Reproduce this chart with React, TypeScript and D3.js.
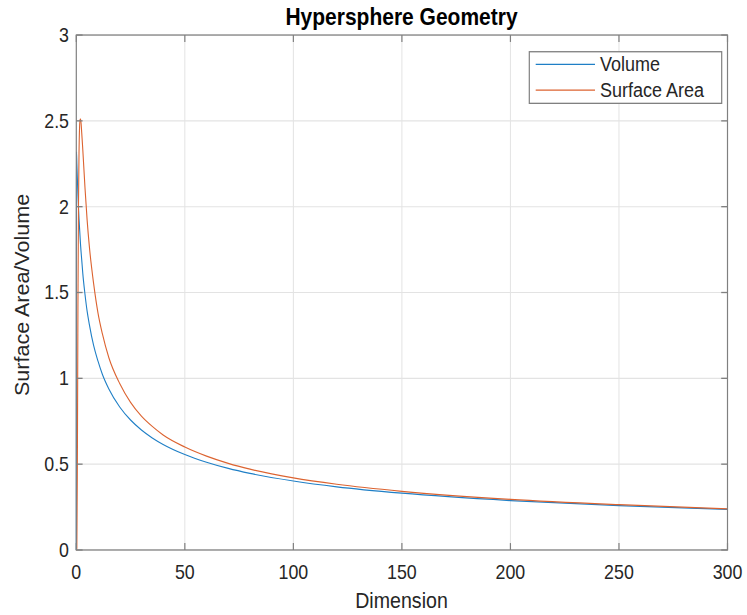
import React from "react";
import * as d3 from "d3";

// ---- data ----
const dims = [0, 0.1, 0.25, 0.5, 0.75, 1, 1.25, 1.5, 1.75, 2, 2.5, 3, 4, 5, 6, 8, 10, 12, 15, 20, 25, 30, 35, 40, 50, 60, 70, 80, 100, 120, 150, 200, 250, 300];
const volume = [0, 2.32, 2.25, 2.16, 2.07, 2.0, 1.93, 1.875, 1.82, 1.77, 1.69, 1.61, 1.49, 1.39, 1.315, 1.19, 1.1, 1.024, 0.938, 0.833, 0.757, 0.699, 0.653, 0.615, 0.556, 0.511, 0.475, 0.446, 0.402, 0.368, 0.331, 0.288, 0.258, 0.236];
const surfaceArea = [0, 0.0, 0.01, 0.54, 1.41, 2.0, 2.31, 2.46, 2.51, 2.51, 2.43, 2.33, 2.11, 1.92, 1.77, 1.55, 1.38, 1.26, 1.12, 0.97, 0.86, 0.78, 0.72, 0.67, 0.6, 0.547, 0.505, 0.471, 0.42, 0.383, 0.342, 0.295, 0.264, 0.24];
const xTicks = [0, 50, 100, 150, 200, 250, 300];
const yTicks = [0, 0.5, 1, 1.5, 2, 2.5, 3];
const seriesNames = ["Volume", "Surface Area"];
const seriesColors = ["#1f7fc6", "#dc6330"];
const title = "Hypersphere Geometry";
const xLabel = "Dimension";
const yLabel = "Surface Area/Volume";

const VW = 747;
const VH = 560;
const FONT = "'Liberation Sans', Arial, Helvetica, sans-serif";

export default function App() {
  const left = 76.3, right = 727.5, top = 31.9, bottom = 500.8;
  const x = d3.scaleLinear().domain([0, 300]).range([left, right]);
  const y = d3.scaleLinear().domain([0, 3]).range([bottom, top]);
  const line = d3
    .line<number>()
    .x((_, i) => x(dims[i]))
    .y((d) => y(d))
    .curve(d3.curveMonotoneX);
  const series = [volume, surfaceArea];
  const tickLen = 6.3;
  const axisColor = "#808080";
  const textColor = "#262626";

  const lg = { x0: 529.3, x1: 721.7, y0: 47.1, y1: 94.1 };
  const lgRows = [58.6, 82.0];

  return (
    <svg
      width={747}
      height={615}
      viewBox={`0 0 ${VW} ${VH}`}
      preserveAspectRatio="none"
      style={{ position: "absolute", left: 0, top: 0, background: "#fff" }}
    >
      <rect x={0} y={0} width={VW} height={VH} fill="#fff" />
      <rect x={left} y={top} width={right - left} height={bottom - top} fill="#fff" />
      {/* grid */}
      <g stroke="#e3e3e3" strokeWidth={1}>
        {xTicks.slice(1, -1).map((t) => (
          <line key={"gx" + t} x1={x(t)} x2={x(t)} y1={top} y2={bottom} />
        ))}
        {yTicks.slice(1, -1).map((t) => (
          <line key={"gy" + t} x1={left} x2={right} y1={y(t)} y2={y(t)} />
        ))}
      </g>
      {/* data */}
      <g fill="none" strokeWidth={1.1}>
        {series.map((s, i) => (
          <path key={i} d={line(s) || ""} stroke={seriesColors[i]} />
        ))}
      </g>
      {/* axes box and ticks */}
      <g stroke={axisColor} strokeWidth={1.2} fill="none">
        <rect x={left} y={top} width={right - left} height={bottom - top} />
        {xTicks.map((t) => (
          <g key={"tx" + t}>
            <line x1={x(t)} x2={x(t)} y1={bottom} y2={bottom - tickLen} />
            <line x1={x(t)} x2={x(t)} y1={top} y2={top + tickLen} />
          </g>
        ))}
        {yTicks.map((t) => (
          <g key={"ty" + t}>
            <line x1={left} x2={left + tickLen} y1={y(t)} y2={y(t)} />
            <line x1={right} x2={right - tickLen} y1={y(t)} y2={y(t)} />
          </g>
        ))}
      </g>
      {/* tick labels */}
      <g fill={textColor} fontFamily={FONT} fontSize={17.8}>
        {xTicks.map((t) => (
          <text key={"lx" + t} x={x(t)} y={520.9} dy="0.35em" textAnchor="middle">
            {String(t)}
          </text>
        ))}
        {yTicks.map((t) => (
          <text key={"ly" + t} x={69} y={y(t)} dy="0.35em" textAnchor="end">
            {String(t)}
          </text>
        ))}
      </g>
      {/* labels */}
      <text x={401.5} y={15.5} dy="0.35em" textAnchor="middle" fontFamily={FONT} fontWeight="bold" fontSize={21} fill="#000">
        {title}
      </text>
      <text x={401.5} y={546.4} dy="0.35em" textAnchor="middle" fontFamily={FONT} fontSize={19.6} fill={textColor}>
        {xLabel}
      </text>
      <text
        transform={`translate(22.5,268.6) rotate(-90)`}
        dy="0.35em"
        textAnchor="middle"
        fontFamily={FONT}
        fontSize={19.6}
        fill={textColor}
      >
        {yLabel}
      </text>
      {/* legend */}
      <rect x={lg.x0} y={lg.y0} width={lg.x1 - lg.x0} height={lg.y1 - lg.y0} fill="#fff" stroke={axisColor} strokeWidth={1.2} />
      {seriesNames.map((n, i) => (
        <g key={n}>
          <line x1={535.7} x2={595} y1={lgRows[i]} y2={lgRows[i]} stroke={seriesColors[i]} strokeWidth={1.1} />
          <text x={600} y={lgRows[i]} dy="0.35em" fontFamily={FONT} fontSize={18} fill={textColor}>
            {n}
          </text>
        </g>
      ))}
    </svg>
  );
}
